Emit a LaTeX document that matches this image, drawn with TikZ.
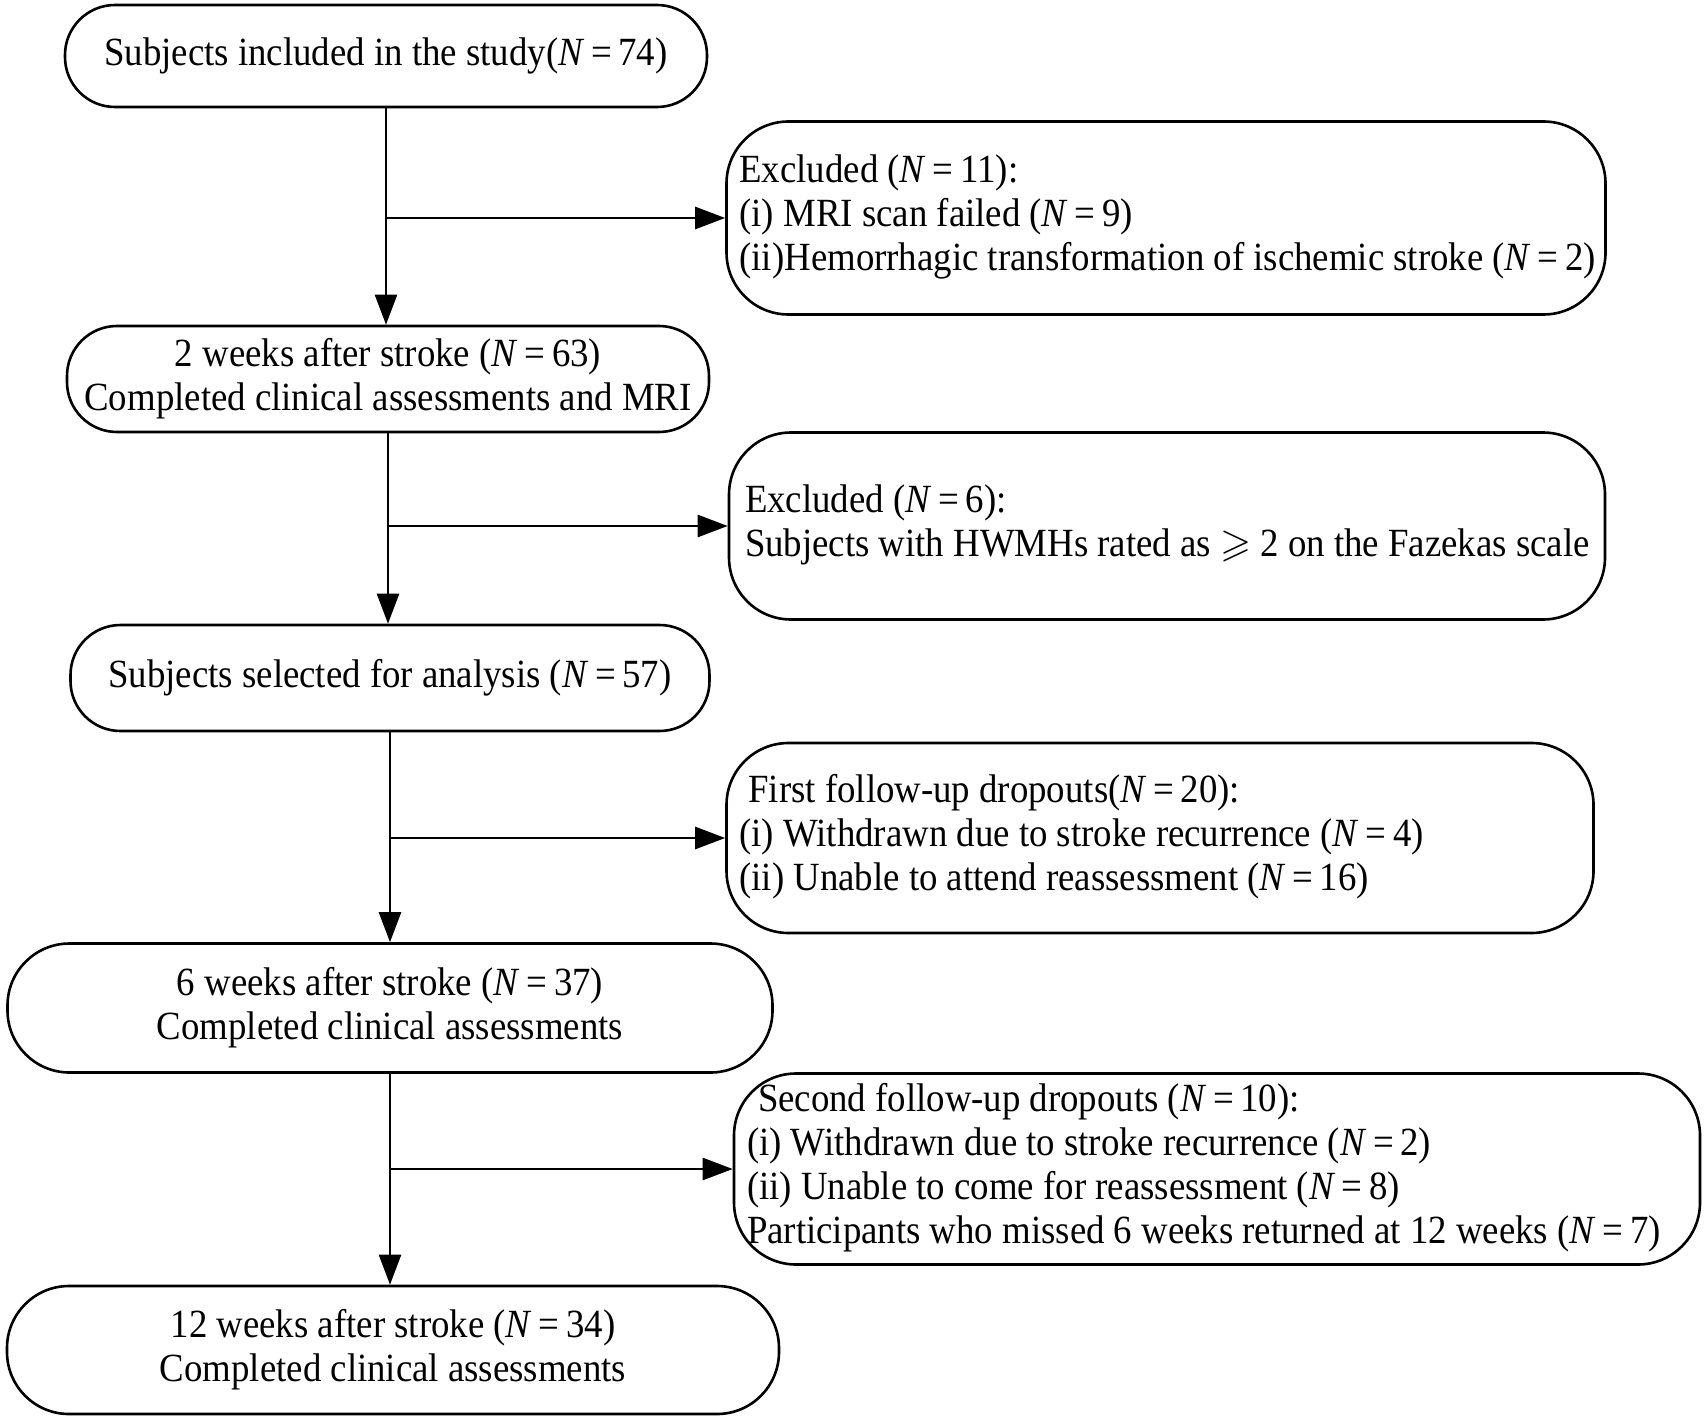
\documentclass[tikz,border=0pt]{standalone}
\usepackage{fontspec}
\usepackage{amssymb}
\setmainfont[FakeStretch=0.92]{Liberation Serif}
\usetikzlibrary{arrows.meta}
\begin{document}
\begin{tikzpicture}[x=1pt,y=-1pt,line width=2.6pt,
  stage/.style={draw,shape=rectangle,rounded corners=50pt,align=center,font=\fontsize{40}{44}\selectfont},
  excl/.style={draw,shape=rectangle,rounded corners=62pt,align=flush left,inner xsep=13pt,inner ysep=0pt,font=\fontsize{40}{44}\selectfont},
  flow/.style={-{Triangle[length=30pt,width=22pt]}}]
\useasboundingbox (0,0) rectangle (1705,1420);
\node[stage,minimum width=642pt,minimum height=102pt](S0) at (386,56){Subjects included in the study(\textit{N}\,=\,74)};
\node[excl,text width=853pt,minimum height=193pt](X1) at (1166,218){\begin{tabular}{@{}l@{}}Excluded (\textit{N}\,=\,11):\\(i) MRI scan failed (\textit{N}\,=\,9)\\(ii)Hemorrhagic transformation of ischemic stroke (\textit{N}\,=\,2)\end{tabular}};
\node[stage,minimum width=642pt,minimum height=106pt](S1) at (388,379){2 weeks after stroke (\textit{N}\,=\,63)\\Completed clinical assessments and MRI};
\node[excl,text width=850pt,minimum height=187pt](X2) at (1167,526){\begin{tabular}{@{}l@{}}\hspace{3pt}Excluded (\textit{N}\,=\,6):\\\hspace{3pt}Subjects with HWMHs rated as $\geqslant$ 2 on the Fazekas scale\end{tabular}};
\node[stage,minimum width=639pt,minimum height=106pt](S2) at (390,678){Subjects selected for analysis (\textit{N}\,=\,57)};
\node[excl,text width=841pt,minimum height=190pt](X3) at (1160,838){\begin{tabular}{@{}l@{}}\hspace{9pt}First follow-up dropouts(\textit{N}\,=\,20):\\(i) Withdrawn due to stroke recurrence (\textit{N}\,=\,4)\\(ii) Unable to attend reassessment (\textit{N}\,=\,16)\end{tabular}};
\node[stage,rounded corners=62pt,minimum width=765pt,minimum height=129pt](S3) at (390,1008){6 weeks after stroke (\textit{N}\,=\,37)\\Completed clinical assessments};
\node[excl,text width=940pt,minimum height=191pt](X4) at (1217,1169){\begin{tabular}{@{}l@{}}\hspace{11pt}Second follow-up dropouts (\textit{N}\,=\,10):\\(i) Withdrawn due to stroke recurrence (\textit{N}\,=\,2)\\(ii) Unable to come for reassessment (\textit{N}\,=\,8)\\Participants who missed 6 weeks returned at 12 weeks (\textit{N}\,=\,7)\end{tabular}};
\node[stage,rounded corners=62pt,minimum width=772pt,minimum height=128pt](S4) at (393,1350){12 weeks after stroke (\textit{N}\,=\,34)\\Completed clinical assessments};
\draw[flow] (S0.south) -- (S0.south |- S1.north);
\draw[flow] (S0.south |- X1.west) -- (X1.west);
\draw[flow] (S1.south) -- (S1.south |- S2.north);
\draw[flow] (S1.south |- X2.west) -- (X2.west);
\draw[flow] (S2.south) -- (S2.south |- S3.north);
\draw[flow] (S2.south |- X3.west) -- (X3.west);
\draw[flow] (S3.south) -- (S3.south |- S4.north);
\draw[flow] (S3.south |- X4.west) -- (X4.west);
\end{tikzpicture}
\end{document}
